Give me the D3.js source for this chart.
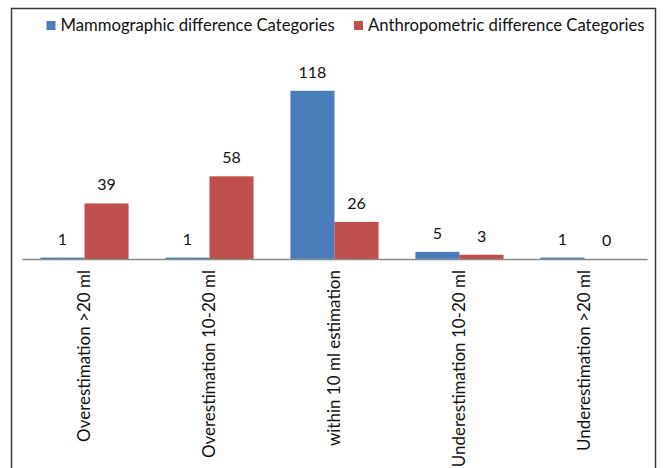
<!DOCTYPE html>
<html><head><meta charset="utf-8">
<script src="https://cdn.jsdelivr.net/npm/d3@7"></script>
<style>html,body{margin:0;padding:0;background:#fff;} svg{display:block;font-family:Lato, "Open Sans", sans-serif;}</style>
</head><body>
<svg id="chart" width="664" height="468"></svg>
<script>
const categories = ["Overestimation >20 ml","Overestimation 10-20 ml","within 10 ml estimation","Underestimation 10-20 ml","Underestimation >20 ml"];
const seriesNames = ["Mammographic difference Categories","Anthropometric difference Categories"];
const mammographic = [1, 1, 118, 5, 1];
const anthropometric = [39, 58, 26, 3, 0];
const colors = ["#4a7ebb", "#c0504d"];

const svg = d3.select("#chart");
const plot = {left: 22, right: 647, top: 59.4, bottom: 259};

svg.append("rect").attr("x", 11.5).attr("y", 8.5).attr("width", 644).attr("height", 480)
  .attr("fill", "#fff").attr("stroke", "#3a3a3a").attr("stroke-width", 1.5);

const x0 = d3.scaleBand().domain(categories).range([plot.left, plot.right]).paddingInner(0.295).paddingOuter(0.1475);
const x1 = d3.scaleBand().domain(seriesNames).range([0, x0.bandwidth()]);
const y = d3.scaleLinear().domain([0, 140]).range([plot.bottom, plot.top]);

const series = [mammographic, anthropometric];
const g = svg.append("g");
seriesNames.forEach((s, si) => {
  g.selectAll(".bar" + si).data(categories).enter().append("rect")
    .attr("x", c => x0(c) + x1(s))
    .attr("y", (c, i) => y(series[si][i]))
    .attr("width", x1.bandwidth())
    .attr("height", (c, i) => y(0) - y(series[si][i]))
    .attr("fill", colors[si]);
  g.selectAll(".lab" + si).data(categories).enter().append("text")
    .attr("x", c => x0(c) + x1(s) + x1.bandwidth() / 2)
    .attr("y", (c, i) => y(series[si][i]) - 13)
    .attr("text-anchor", "middle")
    .attr("font-size", 16)
    .attr("fill", "#111")
    .text((c, i) => series[si][i]);
});

// x axis
const xAxis = d3.axisBottom(x0).tickSize(0).tickSizeOuter(0);
const ax = svg.append("g").attr("transform", `translate(0,${plot.bottom})`).call(xAxis);
ax.select(".domain").attr("stroke", "#8a8a8a").attr("stroke-width", 1.5);
ax.selectAll(".tick text")
  .attr("font-size", 17).attr("font-family", "Lato, 'Open Sans', sans-serif").attr("fill", "#111")
  .attr("text-anchor", "end")
  .attr("transform", "rotate(-90)")
  .attr("x", -11).attr("y", 0).attr("dy", "0.35em");

// legend
const legend = svg.append("g");
const legX = [46.5, 354];
seriesNames.forEach((s, i) => {
  legend.append("rect").attr("x", legX[i]).attr("y", 21).attr("width", 9).attr("height", 9).attr("fill", colors[i]);
  legend.append("text").attr("x", legX[i] + 14).attr("y", 31).attr("font-size", 16.7).attr("fill", "#111").text(s);
});
</script>
</body></html>
